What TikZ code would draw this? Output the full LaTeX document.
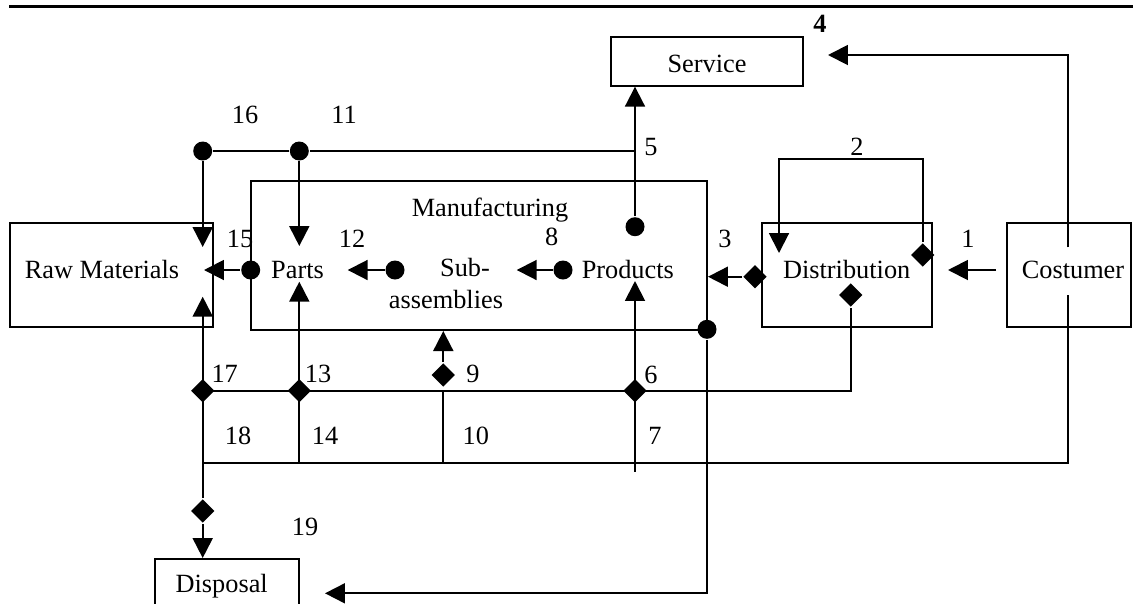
\documentclass[tikz,border=0pt]{standalone}
\usepackage{fontspec}
\setmainfont{Liberation Serif}
\usetikzlibrary{arrows.meta,shapes.geometric}
\newcommand{\pxu}{0.456pt}

\begin{document}
\begin{tikzpicture}[x=\pxu,y=-\pxu,line width=0.9pt,>={Triangle[length=9.1pt,width=9.1pt]},
    box/.style={draw,rectangle,inner sep=0pt},
    txt/.style={inner sep=0pt,text height=0.68em,text depth=0pt,font=\fontsize{12}{14}\selectfont},
    blackdot/.style={circle,fill,inner sep=0pt,minimum size=19*\pxu},
    blackdiamond/.style={diamond,fill,inner sep=0pt,minimum width=24*\pxu,minimum height=24*\pxu}]
  \useasboundingbox (0,0) rectangle (1133,603);
  \clip (0,0) rectangle (1133,603);
  \draw[line width=1.2pt] (9,6.5) -- (1133,6.5);

  \node[box,minimum width=203*\pxu,minimum height=104.3*\pxu] (raw) at (111.5,274.9) {};
  \node[box,minimum width=456*\pxu,minimum height=149.3*\pxu] (mfg) at (479,255.4) {};
  \node[box,minimum width=170.3*\pxu,minimum height=104.6*\pxu] (dist) at (846.9,275) {};
  \node[box,minimum width=124.3*\pxu,minimum height=104.6*\pxu] (cust) at (1068.9,275) {};
  \node[box,minimum width=192*\pxu,minimum height=48.4*\pxu] (serv) at (707,61.5) {};
  \node[box,minimum width=144.3*\pxu,minimum height=62*\pxu] (disp) at (227.2,590) {};

  \node[txt] (rawtxt) at (102,271) {Raw Materials};
  \node[txt] (mfgtxt) at (490,209) {Manufacturing};
  \node[txt] (partstxt) at (297.5,271) {Parts};
  \node[txt] (subtxt) at (465,269) {Sub-};
  \node[txt] (asmtxt) at (446,301) {assemblies};
  \node[txt] (prodtxt) at (627.8,271) {Products};
  \node[txt] (disttxt) at (846.7,271) {Distribution};
  \node[txt] (custtxt) at (1073,271) {Costumer};
  \node[txt] (servtxt) at (707,65) {Service};
  \node[txt] (disptxt) at (221.7,585) {Disposal};

  \node[txt,font=\fontsize{12}{14}\selectfont\bfseries] (n4) at (820,25) {4};
  \node[txt] (n16) at (245,116) {16};
  \node[txt] (n11) at (344,116) {11};
  \node[txt] (n5) at (651,148) {5};
  \node[txt] (n2) at (857,148) {2};
  \node[txt] (n15) at (240,240) {15};
  \node[txt] (n12) at (352,240) {12};
  \node[txt] (n8) at (551.7,238) {8};
  \node[txt] (n3) at (725,240) {3};
  \node[txt] (n1) at (968,240) {1};
  \node[txt] (n17) at (224.7,375) {17};
  \node[txt] (n13) at (318,375) {13};
  \node[txt] (n9) at (473,375) {9};
  \node[txt] (n6) at (651,376) {6};
  \node[txt] (n18) at (238,437) {18};
  \node[txt] (n14) at (325,437) {14};
  \node[txt] (n10) at (475.8,437) {10};
  \node[txt] (n7) at (655,437) {7};
  \node[txt] (n19) at (305,528) {19};

  \node[blackdot] (d16) at (202.7,151) {};
  \node[blackdot] (d11) at (299.3,151) {};
  \node[blackdot] (d5) at (635,226.7) {};
  \node[blackdot] (d15) at (250.7,270) {};
  \node[blackdot] (d12) at (395,270) {};
  \node[blackdot] (d8) at (563,270) {};
  \node[blackdot] (d19) at (707,329.3) {};

  \node[blackdiamond] (g3) at (755,276.7) {};
  \node[blackdiamond] (g2) at (922.7,255) {};
  \node[blackdiamond] (gdist) at (850.7,295) {};
  \node[blackdiamond] (g17) at (202.7,390.7) {};
  \node[blackdiamond] (g13) at (299.3,390.7) {};
  \node[blackdiamond] (g9) at (443.3,375) {};
  \node[blackdiamond] (g6) at (635,390.7) {};
  \node[blackdiamond] (g18) at (202.7,511) {};

  \coordinate (custtop) at (1068,247.3);
  \coordinate (servin) at (828,55);
  \coordinate (custbot) at (1068,295);
  \coordinate (jbr) at (1068,462.7);
  \coordinate (jbl) at (202.7,462.7);
  \coordinate (j5) at (635,151);
  \coordinate (rawtop) at (202.7,247);
  \coordinate (rawbot) at (202.7,296.7);
  \coordinate (rawin) at (204,270);
  \coordinate (partstop) at (299.3,246);
  \coordinate (partsin) at (299.3,281.7);
  \coordinate (partsarr) at (347.7,270);
  \coordinate (subarr) at (516.7,270);
  \coordinate (prodin) at (635,281);
  \coordinate (j14) at (299.3,462.7);
  \coordinate (j10) at (443.3,462.7);
  \coordinate (j9) at (443.3,390.7);
  \coordinate (j7) at (635,471.7);
  \coordinate (jdist) at (850.7,390.7);
  \coordinate (dispin) at (325,593.3);
  \coordinate (lp) at (922.7,159.3);
  \coordinate (distin) at (779,253);
  \coordinate (c1s) at (996,270);
  \coordinate (c1e) at (948,270);

  \draw[->] (custtop) |- (servin);
  \draw (custbot) -- (jbr) -- (jbl);
  \draw[->] (d5) -- (d5 |- serv.south);
  \draw (d16) -- (d11) -- (j5);
  \draw[->] (d16) -- (rawtop);
  \draw[->] (d11) -- (partstop);
  \draw[->] (d15) -- (rawin);
  \draw[->] (d12) -- (partsarr);
  \draw[->] (d8) -- (subarr);
  \draw[->] (g18) -- (rawbot);
  \draw[->] (g18) -- (g18 |- disp.north);
  \draw (g17.center) -- (jdist) -- (gdist);
  \draw[->] (j14) -- (partsin);
  \draw (j10) -- (j9);
  \draw[->] (g9) -- (g9 |- mfg.south);
  \draw[->] (j7) -- (prodin);
  \draw[->] (d19) |- (dispin);
  \draw[->] (g2) -- (lp) -| (distin);
  \draw[->] (g3) -- (mfg.east |- g3);
  \draw[->] (c1s) -- (c1e);
\end{tikzpicture}
\end{document}
